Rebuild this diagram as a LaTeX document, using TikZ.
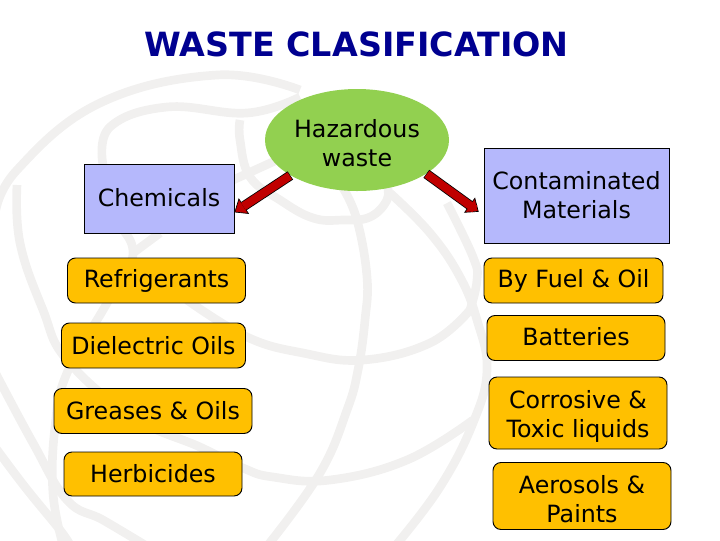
\documentclass[tikz,border=0pt]{standalone}
\usepackage{fontspec}
\setmainfont{DejaVu Sans}
\usetikzlibrary{arrows.meta,shapes.geometric}
\definecolor{boxblue}{HTML}{B5B8FC}
\definecolor{boxorange}{HTML}{FFC000}
\definecolor{ovalgreen}{HTML}{92D050}
\definecolor{arrowred}{HTML}{C00000}
\definecolor{titleblue}{HTML}{000090}
\definecolor{globegray}{HTML}{F1F0EF}
\newcommand{\lowertxt}{\rule{0pt}{18pt}}
\tikzset{
  wh/.style 2 args={minimum width=#1*.75pt,minimum height=#2*.75pt},
  txt/.style={font=\fontsize{17.8}{21.8}\selectfont,align=center,inner sep=0pt,text=black},
  head/.style={draw=black,line width=.7pt,fill=boxblue,txt},
  item/.style={draw=black,line width=.7pt,fill=boxorange,rounded corners=6pt,txt},
  globe/.style={draw=globegray,line width=6.5pt,smooth,tension=.7},
  bigarrow/.style={draw=black,line width=7.4pt,
    -{Triangle[length=8.5pt,width=14pt,fill=arrowred,line width=.5pt]},
    postaction={draw=arrowred,line width=6.2pt,-,shorten >=8pt,shorten <=.5pt}},
}
\begin{document}
\begin{tikzpicture}[x=.75pt,y=-.75pt]
  \useasboundingbox (0,0) rectangle (720,540);

  % globe in the background
  \draw[globe] plot coordinates {(-5,215) (17,170) (100,103) (217,75) (300,90)};
  \draw[globe] plot coordinates {(103,165) (110,127) (167,107) (247,113) (300,97)};
  \draw[globe] plot coordinates {(240,120) (240,140) (250,177) (280,200) (313,218) (343,220) (370,217) (387,200) (387,185)};
  \draw[globe] plot coordinates {(233,180) (277,160)};
  \draw[globe] plot coordinates {(17,185) (20,243) (43,310) (67,360) (133,417) (200,447) (243,468) (273,477) (330,480) (407,460) (473,420)};
  \draw[globe] plot coordinates {(103,165) (110,210) (133,253) (107,303) (67,373) (55,427) (53,493) (63,545)};
  \draw[globe] plot coordinates {(133,253) (160,233)};
  \draw[globe] plot coordinates {(187,300) (247,337) (303,353) (363,360) (430,343) (470,310)};
  \draw[globe] plot coordinates {(-5,372) (33,443) (67,500) (103,520) (145,545)};
  \draw[globe] plot coordinates {(-5,447) (25,487) (60,530) (70,545)};
  \draw[globe] plot coordinates {(390,193) (430,233) (460,277) (477,320) (487,370) (473,423) (440,487) (396,545)};
  \draw[globe] plot coordinates {(447,203) (473,257) (477,280) (470,310)};
  \draw[globe] plot coordinates {(343,188) (357,220) (367,277) (365,320) (358,370) (347,410) (320,473) (268,545)};

  \node[font=\bfseries\fontsize{25}{30}\selectfont,text=titleblue,inner sep=0pt] (title) at (356.5,44) {WASTE CLASIFICATION};

  \node[draw=none,fill=ovalgreen,ellipse,wh={184}{102},txt] (hazard) at (357,140) {\lowertxt Hazardous\\waste};

  \node[head,wh={150}{69},text depth=3pt] (chem) at (159,199) {Chemicals};
  \node[head,wh={185}{95}] (cont) at (576.5,195.5) {Contaminated\\Materials};

  \node[item,wh={178}{45}] (refr) at (156.5,280.5) {Refrigerants};
  \node[item,wh={184}{45}] (diel) at (153.5,345.5) {Dielectric Oils};
  \node[item,wh={198}{45}] (grea) at (153,411) {Greases \& Oils};
  \node[item,wh={178}{44}] (herb) at (153,474) {Herbicides};

  \node[item,wh={179}{45}] (fuel) at (573.5,280.5) {By Fuel \& Oil};
  \node[item,wh={178}{45},text depth=3pt] (batt) at (576,338) {Batteries};
  \node[item,wh={178}{72}] (corr) at (578,413) {\lowertxt Corrosive \&\\Toxic liquids};
  \node[item,wh={178}{67}] (aero) at (582,496) {\lowertxt Aerosols \&\\Paints};

  \draw[bigarrow] (hazard.208) -- (chem.-10);
  \draw[bigarrow,shorten >=4.5pt] (hazard.-26) -- (cont.192);
\end{tikzpicture}
\end{document}
